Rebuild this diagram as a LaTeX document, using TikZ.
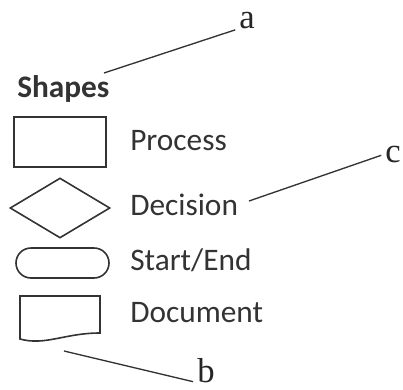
\documentclass[tikz,border=0pt]{standalone}
\usepackage{fontspec}
\setmainfont{Carlito}
\newfontfamily\letterfont{Liberation Serif}
\usetikzlibrary{shapes.geometric,shapes.misc}
\definecolor{ink}{HTML}{333333}
\begin{document}
\begin{tikzpicture}[x=0.75pt, y=-0.75pt,
  shapebox/.style={draw=ink, line width=1.2pt, inner sep=0pt},
  label/.style={text=ink, anchor=base west, inner sep=0pt, font=\fontsize{23.5}{28}\selectfont},
  letter/.style={text=black!85, anchor=base west, inner sep=0pt, font=\letterfont\fontsize{26}{30}\selectfont},
  leader/.style={draw=ink, line width=1pt, shorten >=3pt}]
\useasboundingbox (0,0) rectangle (403,389);
\node[label, font=\fontsize{23.5}{28}\selectfont\bfseries] (shapes) at (17,97) {Shapes};
\node[shapebox, rectangle, minimum width=69pt, minimum height=37.5pt] (process) at (60,142) {};
\node[label] (processtxt) at (130,150) {Process};
\node[shapebox, diamond, minimum width=75pt, minimum height=45pt] (decision) at (60,208) {};
\node[label] (decisiontxt) at (130,215) {Decision};
\node[shapebox, rounded rectangle, minimum width=69.75pt, minimum height=22.5pt] (startend) at (62.5,263) {};
\node[label] (startendtxt) at (130,270) {Start/End};
\draw[shapebox] (20,296) -- (100,296) -- (100,333) .. controls (65,333) and (45,346) .. (20,339) -- cycle;
\node[label] (documenttxt) at (130,322) {Document};
\node[letter] (a) at (239,28) {a};
\node[letter] (c) at (385,162) {c};
\node[letter] (b) at (197,382) {b};
\coordinate (ta) at (104,73);
\coordinate (tc) at (249,201);
\coordinate (tb) at (64,351);
\draw[leader] (ta) -- (a.south west);
\draw[leader] (tc) -- (c.west);
\draw[leader] (tb) -- (b.south west);
\end{tikzpicture}
\end{document}
